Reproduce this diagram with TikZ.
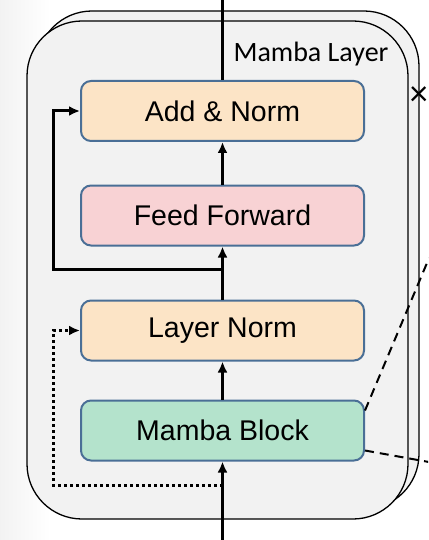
\documentclass[tikz,border=0pt]{standalone}
\usepackage{fontspec}
\setmainfont{Liberation Sans}
\newfontfamily\calibfont{Carlito}
\usetikzlibrary{arrows.meta}
\definecolor{panel}{HTML}{F2F2F2}
\definecolor{boxline}{HTML}{4A6F96}
\definecolor{peach}{HTML}{FCE4C6}
\definecolor{pinkbox}{HTML}{F8D2D4}
\definecolor{mintbox}{HTML}{B4E3CC}
\tikzset{
  layerbox/.style={draw=black, line width=1.3pt, fill=panel, rounded corners=55pt},
  blockbox/.style={draw=boxline, line width=2pt, rounded corners=10pt,
    minimum width=283pt, minimum height=60pt, inner sep=0pt,
    font=\fontsize{28.5}{34}\selectfont},
  mainline/.style={line width=3pt, draw=black},
  arr/.style={mainline, -{Latex[length=11pt,width=10pt]}},
  dotarr/.style={line width=3pt, dash pattern=on 3pt off 3pt, -{Latex[length=11pt,width=10pt]}},
  dashline/.style={line width=2pt, dash pattern=on 9pt off 6pt},
}
\begin{document}
\begin{tikzpicture}[x=1pt,y=-1pt]
\useasboundingbox (0,0) rectangle (428,540);
\clip (0,0) rectangle (428,540);
\fill[left color=black!5, right color=white] (0,0) rectangle (50,540);
% stacked layer panels
\draw[layerbox] (37,11) rectangle (419,509);
\draw[layerbox] (27,21) rectangle (408,519);
\node[font=\calibfont\fontsize{28}{34}\selectfont, anchor=base] (title) at (311,62) {Mamba Layer};
\node[font=\calibfont\fontsize{36}{42}\selectfont, anchor=east, inner sep=0pt] (times) at (428,96) {×};
% blocks
\node[blockbox, fill=peach] (an) at (222.5,111) {Add \& Norm};
\node[blockbox, fill=pinkbox] (ff) at (222.5,215.5) {Feed Forward};
\node[blockbox, fill=peach] (ln) at (222.5,330.5) {Layer Norm};
\node[blockbox, fill=mintbox] (mb) at (222.5,430.5) {Mamba Block};
% coordinates
\coordinate (top) at (222.5,0);
\coordinate (bot) at (222.5,540);
\coordinate (br) at (222.5,269);
\coordinate (rl) at (53,269);
\coordinate (dp) at (222.5,485);
\coordinate (dl) at (53,485);
\coordinate (dz1) at (440,232);
\coordinate (dz2) at (440,464);
% connectors
\draw[mainline] (an.north) -- (top);
\draw[arr] (ff.north) -- (an.south);
\draw[mainline] (ln.north) -- (br);
\draw[arr] (br) -- (ff.south);
\draw[arr] (br) -- (rl) |- (an.west);
\draw[arr] (mb.north) -- (ln.south);
\draw[arr] (bot) -- (mb.south);
\draw[dotarr] (dp) -- (dl) |- (ln.west);
\draw[dashline] ([yshift=20pt]mb.east) -- (dz1);
\draw[dashline] ([yshift=-20pt]mb.east) -- (dz2);
\end{tikzpicture}
\end{document}
